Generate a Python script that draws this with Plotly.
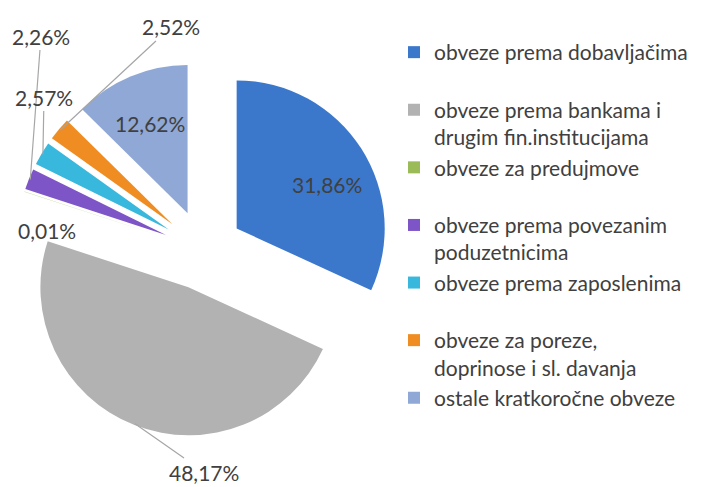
import math
import plotly.graph_objects as go

labels = [
    "obveze prema dobavljačima",
    "obveze prema bankama i<br>drugim fin.institucijama",
    "obveze za predujmove",
    "obveze prema povezanim<br>poduzetnicima",
    "obveze prema zaposlenima",
    "obveze za poreze,<br>doprinose i sl. davanja",
    "ostale kratkoročne obveze",
]
values = [31.86, 48.17, 0.01, 2.26, 2.57, 2.52, 12.62]
colors = ["#3b78cb", "#b2b2b2", "#9bbb59", "#7d55c7", "#38b8dc", "#ef8d22", "#8fa8d6"]

W, H = 702, 487
PULL = 0.27
FONT = "Lato, 'Open Sans', sans-serif"
FS = 21
TXT = "#404040"
# pie box in pixels
box_l, box_r, box_t, box_b = 15, 391, 62, 438

def fmt(v):
    return f"{v:.2f}".replace(".", ",") + "%"

texts = [fmt(v) for v in values]
legend_names = [l if "<br>" in l else l + "<br> " for l in labels]

fig = go.Figure(go.Pie(
    labels=legend_names,
    values=values,
    text=texts,
    textinfo="none",
    sort=False,
    direction="clockwise",
    rotation=0,
    pull=[PULL] * len(values),
    marker=dict(colors=colors, line=dict(width=0)),
    domain=dict(x=[box_l / W, box_r / W], y=[1 - box_b / H, 1 - box_t / H]),
    showlegend=True,
    hoverinfo="label+percent",
))

# geometry of the pie (same as plotly's own: r = box/(2+2*pull))
cx = (box_l + box_r) / 2
cy = (box_t + box_b) / 2
r = (box_r - box_l) / (2 + 2 * PULL)
total = sum(values)

def tip(i, frac=1.0, shift=0.0):
    start = sum(values[:i]) / total * 360
    end = sum(values[:i + 1]) / total * 360
    mid = math.radians((start + end) / 2)
    vx = cx + PULL * r * math.sin(mid)
    vy = cy - PULL * r * math.cos(mid)
    a = mid + math.radians(shift)
    return vx + frac * r * math.sin(a), vy - frac * r * math.cos(a)

font = dict(family=FONT, size=FS, color=TXT)
annotations = []
# outside labels with leader lines: (slice index, text centre in px)
outside = [(1, 204, 472), (3, 41, 36), (4, 44, 97), (5, 171, 27)]
for i, tx, ty in outside:
    px, py = tip(i, 0.99)
    annotations.append(dict(
        x=px / W, y=1 - py / H, xref="paper", yref="paper",
        ax=tx - px, ay=ty - py, axref="pixel", ayref="pixel",
        xanchor="center", yanchor="middle",
        text=texts[i], showarrow=True, arrowhead=0, arrowwidth=1.2,
        arrowcolor="#a6a6a6", standoff=0, startstandoff=0, font=font,
    ))
# label of the tiny slice, no leader
annotations.append(dict(x=47 / W, y=1 - 230 / H, xref="paper", yref="paper",
                        xanchor="center", yanchor="middle",
                        showarrow=False, text=texts[2], font=font))
# inside labels
for i, frac, sh in [(0, 0.68, 7), (6, 0.66, 0)]:
    px, py = tip(i, frac, sh)
    annotations.append(dict(x=px / W, y=1 - py / H, xref="paper", yref="paper",
                            xanchor="center", yanchor="middle",
                            showarrow=False, text=texts[i], font=font))

fig.update_layout(
    width=W, height=H,
    margin=dict(l=0, r=0, t=0, b=0),
    paper_bgcolor="white",
    plot_bgcolor="white",
    annotations=annotations,
    legend=dict(
        x=394 / W, y=1 - 32 / H, xanchor="left", yanchor="top",
        valign="top", font=font, bgcolor="rgba(0,0,0,0)",
    ),
)

fig.write_html("out.html", config={"displayModeBar": False},
               post_script="document.body.style.margin='0';")
